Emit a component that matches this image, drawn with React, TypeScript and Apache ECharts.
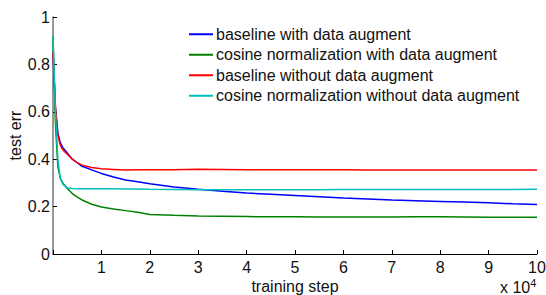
import React, { useEffect, useRef } from "react";
import * as echarts from "echarts";

const steps = [0, 0.05, 0.1, 0.15, 0.2, 0.3, 0.4, 0.5, 0.6, 0.8, 1, 1.25, 1.5, 1.75, 2, 2.5, 3, 3.5, 4, 4.5, 5, 5.5, 6, 6.5, 7, 7.5, 8, 8.5, 9, 9.5, 10];
const blueVals = [0.85, 0.62, 0.51, 0.47, 0.45, 0.425, 0.4, 0.385, 0.37, 0.355, 0.34, 0.325, 0.312, 0.305, 0.296, 0.283, 0.273, 0.265, 0.257, 0.252, 0.247, 0.242, 0.236, 0.232, 0.228, 0.225, 0.222, 0.219, 0.216, 0.212, 0.209];
const greenVals = [0.92, 0.55, 0.37, 0.32, 0.3, 0.275, 0.255, 0.24, 0.228, 0.21, 0.198, 0.19, 0.183, 0.176, 0.167, 0.163, 0.16, 0.159, 0.158, 0.157, 0.157, 0.156, 0.156, 0.156, 0.156, 0.157, 0.157, 0.156, 0.155, 0.155, 0.155];
const redVals = [0.85, 0.62, 0.5, 0.46, 0.44, 0.42, 0.4, 0.385, 0.375, 0.365, 0.36, 0.357, 0.354, 0.355, 0.355, 0.356, 0.358, 0.357, 0.356, 0.355, 0.356, 0.355, 0.355, 0.354, 0.354, 0.354, 0.354, 0.354, 0.354, 0.354, 0.354];
const cyanVals = [0.92, 0.6, 0.4, 0.32, 0.295, 0.278, 0.276, 0.275, 0.275, 0.275, 0.275, 0.275, 0.274, 0.274, 0.273, 0.272, 0.271, 0.271, 0.271, 0.271, 0.271, 0.271, 0.272, 0.272, 0.272, 0.272, 0.272, 0.272, 0.272, 0.272, 0.273];

const seriesNames = [
  "baseline with data augment",
  "cosine normalization with data augment",
  "baseline without data augment",
  "cosine normalization without data augment",
];
const seriesColors = ["#0000ff", "#008000", "#ff0000", "#00bfbf"];
const seriesValues = [blueVals, greenVals, redVals, cyanVals];

const FONT = "Liberation Sans, Arial, sans-serif";

export default function App() {
  const ref = useRef<HTMLDivElement>(null);
  useEffect(() => {
    const chart = echarts.init(ref.current!, null, { renderer: "svg" });
    chart.setOption({
      animation: false,
      backgroundColor: "#ffffff",
      textStyle: { fontFamily: FONT },
      grid: { left: 53, right: 9, top: 17, bottom: 41, containLabel: false, outerBoundsMode: "none" },
      legend: {
        orient: "vertical",
        left: 184,
        top: 20,
        padding: 5,
        icon: "rect",
        itemWidth: 24,
        itemHeight: 2,
        itemGap: 2,
        data: seriesNames,
        textStyle: { fontFamily: FONT, fontSize: 16, color: "#111", padding: [0, 0, 0, -2], lineHeight: 18.5 },
      },
      xAxis: {
        type: "value",
        min: 0,
        max: 10,
        interval: 1,
        name: "training step",
        nameLocation: "middle",
        nameGap: 24,
        nameMoveOverlap: false,
        nameTextStyle: { fontFamily: FONT, fontSize: 16, color: "#111" },
        axisLine: { lineStyle: { color: "#000", width: 1 } },
        axisTick: { inside: true, length: 4, lineStyle: { color: "#000" } },
        axisLabel: {
          fontFamily: FONT,
          fontSize: 16,
          color: "#111",
          margin: 5,
          formatter: (v: number) => (v === 0 ? "" : String(v)),
        },
        splitLine: { show: false },
      },
      yAxis: {
        type: "value",
        min: 0,
        max: 1,
        interval: 0.2,
        name: "test err",
        nameLocation: "middle",
        nameGap: 30,
        nameMoveOverlap: false,
        nameRotate: 90,
        nameTextStyle: { fontFamily: FONT, fontSize: 16, color: "#111" },
        axisLine: { show: true, lineStyle: { color: "#777", width: 1.5 } },
        axisTick: { show: true, inside: true, length: 4, lineStyle: { color: "#000" } },
        axisLabel: { fontFamily: FONT, fontSize: 16, color: "#111", margin: 3 },
        splitLine: { show: false },
      },
      series: seriesNames.map((name, i) => ({
        name,
        type: "line",
        symbol: "none",
        smooth: false,
        color: seriesColors[i],
        lineStyle: { color: seriesColors[i], width: 1.5 },
        data: steps.map((s, j) => [s, seriesValues[i][j]]),
      })),
      graphic: [
        {
          type: "text",
          left: 500,
          top: 277,
          style: {
            text: "x 10{s|4}",
            rich: { s: { fontSize: 11, verticalAlign: "top", padding: [0, 0, 9, 0], fontFamily: FONT, fill: "#111" } },
            font: `16px ${FONT}`,
            fill: "#111",
          },
        },
      ],
    });
    return () => chart.dispose();
  }, []);
  return <div ref={ref} style={{ position: "fixed", left: 0, top: 0, width: 546, height: 295 }} />;
}
